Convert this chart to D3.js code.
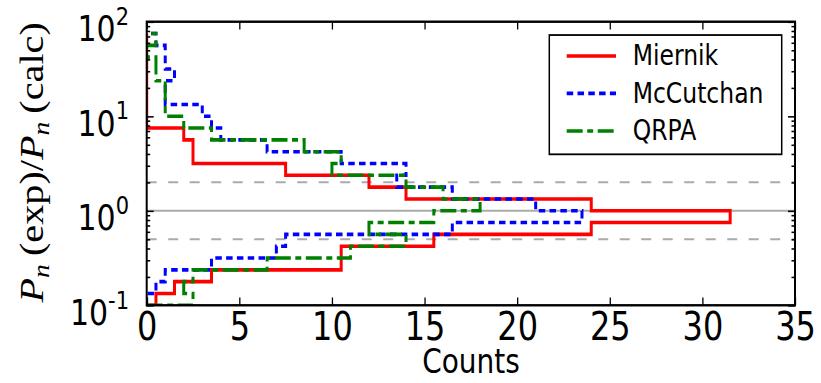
<!DOCTYPE html>
<html>
<head>
<meta charset="utf-8">
<script src="https://cdn.jsdelivr.net/npm/d3@7"></script>
<style>
  body { margin: 0; background: #fff; }
</style>
</head>
<body>
<script>
// histogram bins: log10(ratio) edges from -1 upward in steps of 1/8
const binEdges = d3.range(24).map(k => -1 + k * 0.125);

// counts per bin, bottom bin first
const miernik   = [0.5, 1.5, 3.5, 10.5, 10.5, 15.5, 24, 31.5, 24, 14, 12, 7.5, 2.5, 2.5, 2, 0, 0, 0, 0, 0, 0, 0, 0];
const mccutchan = [0, 0.5, 1, 3.5, 7, 7.5, 16.5, 23.5, 21, 16.5, 13.5, 14, 10.5, 6.5, 4, 3.5, 3, 1, 1, 1.5, 1, 1, 0.5];
const qrpa      = [2.5, 2, 2.5, 6.5, 11, 14, 12, 15.5, 18, 16, 14, 10, 10.5, 8.5, 3.5, 2, 1, 1, 1, 0.5, 0.5, 0, 0.5];

const seriesNames = ["Miernik", "McCutchan", "QRPA"];
const xTicks = [0, 5, 10, 15, 20, 25, 30, 35];
const yDecades = [-1, 0, 1, 2];
const refValues = [1, 2, 0.5];

// the picture is stretched vertically, so draw in a squashed space and scale up
const W = 821, H = 383, sy = 1.2;
const sans = "DejaVu Sans, sans-serif";

const svg = d3.select("body").append("svg")
  .attr("width", W)
  .attr("height", H);

const root = svg.append("g").attr("transform", `scale(1,${sy})`);

const plot = {left: 146.7, right: 795, top: 18.1, bottom: 254.4};

const x = d3.scaleLinear().domain([0, 35]).range([plot.left, plot.right]);
const y = d3.scaleLog().domain([0.1, 100]).range([plot.bottom, plot.top]);

root.append("clipPath").attr("id", "clip")
  .append("rect")
  .attr("x", plot.left).attr("y", plot.top)
  .attr("width", plot.right - plot.left)
  .attr("height", plot.bottom - plot.top);

// reference lines at 1 (solid), 2 and 0.5 (dashed)
root.append("g").selectAll("line")
  .data(refValues)
  .join("line")
  .attr("x1", plot.left).attr("x2", plot.right)
  .attr("y1", d => y(d)).attr("y2", d => y(d))
  .attr("stroke", "#ababab")
  .attr("stroke-width", 1.6)
  .attr("stroke-dasharray", d => d === 1 ? null : "10,11.5");

// step outlines of the horizontal histograms
function outline(counts) {
  const pts = [[0, binEdges[0]]];
  counts.forEach((c, i) => {
    pts.push([c, binEdges[i]]);
    pts.push([c, binEdges[i + 1]]);
  });
  pts.push([0, binEdges[counts.length]]);
  return pts;
}

const line = d3.line()
  .x(d => x(d[0]))
  .y(d => y(Math.pow(10, d[1])));

const styles = [
  {color: "#ff0000", dash: null},
  {color: "#0000ff", dash: "6.5,4.3"},
  {color: "#008000", dash: "16,4.5,6,4.5"}
];

const histG = root.append("g").attr("clip-path", "url(#clip)");
[miernik, mccutchan, qrpa].forEach((counts, i) => {
  histG.append("path")
    .attr("d", line(outline(counts)))
    .attr("fill", "none")
    .attr("stroke", styles[i].color)
    .attr("stroke-width", 3)
    .attr("stroke-dasharray", styles[i].dash);
});

// axes (ticks point inward on all four sides)
const minorVals = [];
yDecades.slice(0, -1).forEach(d => {
  for (let m = 2; m <= 9; m++) minorVals.push(m * Math.pow(10, d));
});
const majorVals = yDecades.map(d => Math.pow(10, d));

function styleAxis(g) {
  g.select(".domain").remove();
  g.selectAll(".tick line").attr("stroke", "#000").attr("stroke-width", 1.3);
}

const xBottom = root.append("g")
  .attr("transform", `translate(0,${plot.bottom})`)
  .call(d3.axisBottom(x).tickValues(xTicks).tickSize(-6.5).tickPadding(6));
styleAxis(xBottom);
xBottom.selectAll(".tick text")
  .style("font-family", sans)
  .style("font-size", "32px")
  .attr("fill", "#000");

root.append("g")
  .attr("transform", `translate(0,${plot.top})`)
  .call(d3.axisTop(x).tickValues(xTicks).tickSize(-6.5).tickFormat(""))
  .call(styleAxis);

[[plot.left, d3.axisLeft], [plot.right, d3.axisRight]].forEach(([px, axisFn]) => {
  root.append("g")
    .attr("transform", `translate(${px},0)`)
    .call(axisFn(y).tickValues(majorVals).tickSize(-7).tickFormat(""))
    .call(styleAxis);
  root.append("g")
    .attr("transform", `translate(${px},0)`)
    .call(axisFn(y).tickValues(minorVals).tickSize(-3.5).tickFormat(""))
    .call(styleAxis);
});

// y tick labels as 10 with a raised exponent
const yLab = root.append("g").selectAll("text")
  .data(yDecades)
  .join("text")
  .attr("x", 129)
  .attr("y", d => y(Math.pow(10, d)) + 16.4)
  .attr("text-anchor", "end")
  .style("font-family", sans)
  .attr("fill", "#000");
yLab.append("tspan").style("font-size", "30px").text("10");
yLab.append("tspan").style("font-size", "21px").attr("dy", -13.7).text(d => d);

// frame
root.append("rect")
  .attr("x", plot.left).attr("y", plot.top)
  .attr("width", plot.right - plot.left)
  .attr("height", plot.bottom - plot.top)
  .attr("fill", "none")
  .attr("stroke", "#000")
  .attr("stroke-width", 2);

// axis titles
root.append("text")
  .attr("x", 471).attr("y", 311)
  .attr("text-anchor", "middle")
  .style("font-family", sans)
  .style("font-size", "28px")
  .text("Counts");

const yTitle = root.append("text")
  .attr("transform", `translate(43,${(plot.top + plot.bottom) / 2 - 1}) rotate(-90)`)
  .attr("text-anchor", "middle")
  .style("font-family", "Liberation Serif, DejaVu Serif, serif")
  .style("font-size", "33.5px");
yTitle.append("tspan").style("font-style", "italic").text("P");
yTitle.append("tspan").style("font-style", "italic").style("font-size", "23px").attr("dy", 6).text("n");
yTitle.append("tspan").attr("dy", -6).text("\u2009(exp)/");
yTitle.append("tspan").style("font-style", "italic").text("P");
yTitle.append("tspan").style("font-style", "italic").style("font-size", "23px").attr("dy", 6).text("n");
yTitle.append("tspan").attr("dy", -6).text("\u2009(calc)");

// legend
const legend = root.append("g");
legend.append("rect")
  .attr("x", 549.3).attr("y", 29.2)
  .attr("width", 232.4).attr("height", 99.4)
  .attr("fill", "#fff")
  .attr("stroke", "#000")
  .attr("stroke-width", 1.5);

const rowY = [46.7, 77.8, 109.2];
seriesNames.forEach((name, i) => {
  legend.append("line")
    .attr("x1", 566.7).attr("x2", 616)
    .attr("y1", rowY[i]).attr("y2", rowY[i])
    .attr("stroke", styles[i].color)
    .attr("stroke-width", 3)
    .attr("stroke-dasharray", styles[i].dash);
  legend.append("text")
    .attr("x", 632.7).attr("y", rowY[i] + 7.8)
    .style("font-family", sans)
    .style("font-size", "23.5px")
    .text(name);
});
</script>
</body>
</html>
